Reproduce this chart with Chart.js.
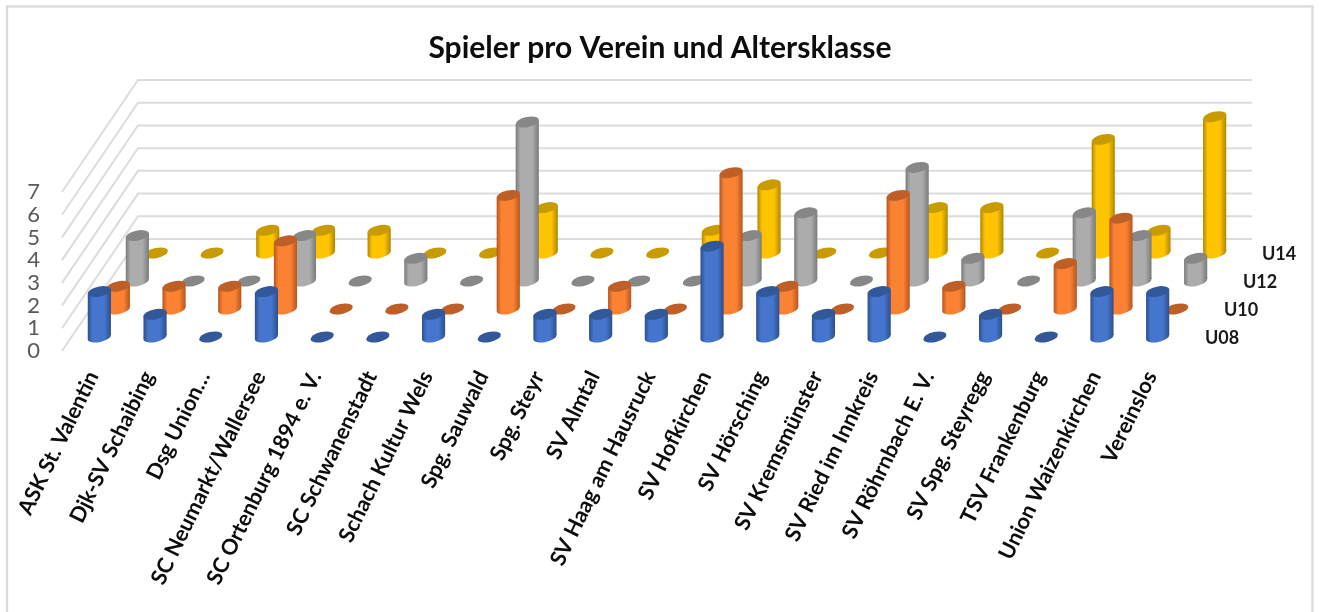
<!DOCTYPE html>
<html><head><meta charset="utf-8">
<style>html,body{margin:0;padding:0;background:#fff}#wrap{position:absolute;left:0;top:0;width:1320px;height:612px}</style>
<script src="https://cdn.jsdelivr.net/npm/chart.js@4"></script>
</head><body><div id="wrap"><canvas id="c" width="1320" height="612"></canvas></div>
<script>
const clubs = ["ASK St. Valentin","Djk-SV Schaibing","Dsg Union…","SC Neumarkt/Wallersee","SC Ortenburg 1894 e. V.","SC Schwanenstadt","Schach Kultur Wels","Spg. Sauwald","Spg. Steyr","SV Almtal","SV Haag am Hausruck","SV Hofkirchen","SV Hörsching","SV Kremsmünster","SV Ried im Innkreis","SV Röhrnbach E. V.","SV Spg. Steyregg","TSV Frankenburg","Union Waizenkirchen","Vereinslos"];
const u08 = [2,1,0,2,0,0,1,0,1,1,1,4,2,1,2,0,1,0,2,2];
const u10 = [1,1,1,3,0,0,0,5,0,1,0,6,1,0,5,1,0,2,4,0];
const u12 = [2,0,0,2,0,1,0,7,0,0,0,2,3,0,5,1,0,3,2,1];
const u14 = [0,0,1,1,1,0,0,2,0,0,1,3,0,0,2,2,0,5,1,6];
const yTicks = [0,1,2,3,4,5,6,7];

const DX = 19, DY = -28, RX = 11.8, RY = 5, TILT = -12 * Math.PI / 180;
const looks = [
  {edge:'#2c4f8c', mid:'#4575cc', top:'#33589a'},
  {edge:'#b5561f', mid:'#fb8233', top:'#bd5f27'},
  {edge:'#7a7a7a', mid:'#acacac', top:'#878787'},
  {edge:'#b08600', mid:'#ffc400', top:'#c89c00'}
];
function cylinder(ctx, x, yBase, yTop, look) {
  const hw = Math.sqrt(RX*RX*Math.cos(TILT)**2 + RY*RY*Math.sin(TILT)**2);
  const d = (RX*RX - RY*RY) * Math.sin(-TILT) * Math.cos(TILT) / hw;
  if (yBase - yTop > 0.5) {
    const g = ctx.createLinearGradient(x-hw, 0, x+hw, 0);
    g.addColorStop(0, look.edge); g.addColorStop(0.2, look.mid);
    g.addColorStop(0.72, look.mid); g.addColorStop(1, look.edge);
    ctx.fillStyle = g;
    ctx.beginPath();
    ctx.moveTo(x-hw, yTop+d); ctx.lineTo(x+hw, yTop-d);
    ctx.lineTo(x+hw, yBase-d); ctx.lineTo(x-hw, yBase+d); ctx.closePath();
    ctx.fill();
    ctx.beginPath(); ctx.ellipse(x, yBase, RX, RY, TILT, 0, Math.PI*2); ctx.fill();
  }
  ctx.fillStyle = look.top;
  ctx.beginPath(); ctx.ellipse(x, yTop, RX, RY, TILT, 0, Math.PI*2); ctx.fill();
}
const scene = {
  id:'scene',
  beforeDatasetsDraw(chart) {
    const ctx = chart.ctx, ys = chart.scales.y, a = chart.chartArea, n = chart.data.datasets.length;
    ctx.save();
    // frame
    ctx.strokeStyle = '#dcdcdc'; ctx.lineWidth = 2.4;
    ctx.strokeRect(7, 6.5, 1305.5, 640);
    // side wall and back wall grid
    ctx.strokeStyle = '#dcdcdc'; ctx.lineWidth = 2;
    yTicks.forEach(v => {
      const y = ys.getPixelForValue(v);
      ctx.beginPath(); ctx.moveTo(a.left, y);
      ctx.lineTo(a.left + n*DX, y + n*DY);
      ctx.lineTo(a.right + n*DX, y + n*DY); ctx.stroke();
    });
    // back series first
    for (let s = n-1; s >= 0; s--) {
      const meta = chart.getDatasetMeta(s);
      const ox = (s+0.5)*DX, oy = (s+0.5)*DY;
      meta.data.forEach(el => cylinder(ctx, el.x+ox, ys.getPixelForValue(0)+oy, el.y+oy, looks[s]));
      ctx.fillStyle = '#1a1a1a';
      ctx.font = 'bold 18px Lato'; ctx.textAlign = 'center'; ctx.textBaseline = 'middle';
      ctx.fillText(chart.data.datasets[s].label, a.right + ox + 36.5, ys.getPixelForValue(0) + oy + 1);
    }
    ctx.restore();
    return false;
  }
};
new Chart(document.getElementById('c'), {
  type:'bar',
  data:{labels:clubs, datasets:[
    {label:'U08', data:u08, backgroundColor:'#4472c4'},
    {label:'U10', data:u10, backgroundColor:'#ed7d31'},
    {label:'U12', data:u12, backgroundColor:'#a5a5a5'},
    {label:'U14', data:u14, backgroundColor:'#ffc000'}
  ]},
  plugins:[scene],
  options:{
    responsive:false, animation:false, devicePixelRatio:1,
    layout:{padding:0},
    datasets:{bar:{grouped:false}},
    plugins:{
      legend:{display:false}, tooltip:{enabled:false},
      title:{display:true, text:'Spieler pro Verein und Altersklasse', color:'#0d0d0d',
        font:{family:'Lato', size:30, weight:'bold', lineHeight:1.2}, padding:{top:30, bottom:126}}
    },
    scales:{
      x:{position:'bottom', offset:true, grid:{display:false}, border:{display:false},
        ticks:{autoSkip:false, minRotation:64, maxRotation:64, labelOffset:3, padding:8, color:'#0d0d0d',
          font:{family:'Lato', size:21.7, weight:'bold'}},
        afterFit(s){ s.height = 261; s.paddingLeft = 0; s.paddingRight = 0; }},
      y:{position:'left', min:0, max:7, grid:{display:false}, border:{display:false},
        ticks:{stepSize:1, autoSkip:false, padding:14, color:'#595959', font:{family:'Lato', size:22}},
        afterFit(s){ s.width = 62; s.paddingTop = 0; s.paddingBottom = 0; }},
      yRight:{position:'right', display:true, min:0, max:7, grid:{display:false}, border:{display:false},
        ticks:{display:false}, afterFit(s){ s.width = 144; s.paddingTop = 0; s.paddingBottom = 0; }}
    }
  }
});
</script></body></html>
